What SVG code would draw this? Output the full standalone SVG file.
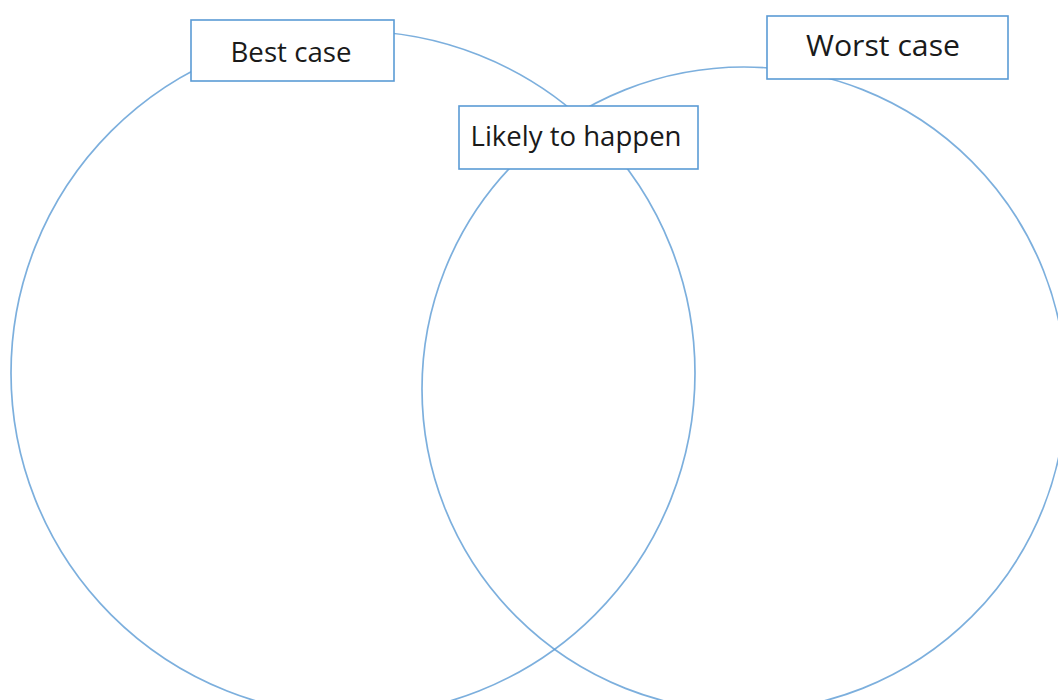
<svg xmlns="http://www.w3.org/2000/svg" width="1058" height="700" viewBox="0 0 1058 700">
<style>
.c{fill:none;stroke:#5B9BD5;stroke-width:1.7;stroke-opacity:0.8}
.b{fill:#fff;stroke:#5B9BD5;stroke-width:1.6}
.t{font-family:"Open Sans","Liberation Sans",sans-serif;fill:#1a1a1a;text-anchor:middle}
</style>
<rect width="1058" height="700" fill="#fff"/>
<g id="circles">
<circle id="left-circle" class="c" cx="353" cy="373" r="342"/>
<circle id="right-circle" class="c" cx="744" cy="389" r="322"/>
</g>
<g id="best-case">
<rect class="b" x="191" y="20" width="203" height="61"/>
<text class="t" x="291" y="62" font-size="27" textLength="121" lengthAdjust="spacingAndGlyphs">Best case</text>
</g>
<g id="worst-case">
<rect class="b" x="767" y="16" width="241" height="63"/>
<text class="t" x="883" y="56" font-size="28.5" textLength="154" lengthAdjust="spacingAndGlyphs">Worst case</text>
</g>
<g id="likely">
<rect class="b" x="459" y="106" width="239" height="63"/>
<text class="t" x="576" y="146" font-size="27" textLength="211" lengthAdjust="spacingAndGlyphs">Likely to happen</text>
</g>
</svg>
